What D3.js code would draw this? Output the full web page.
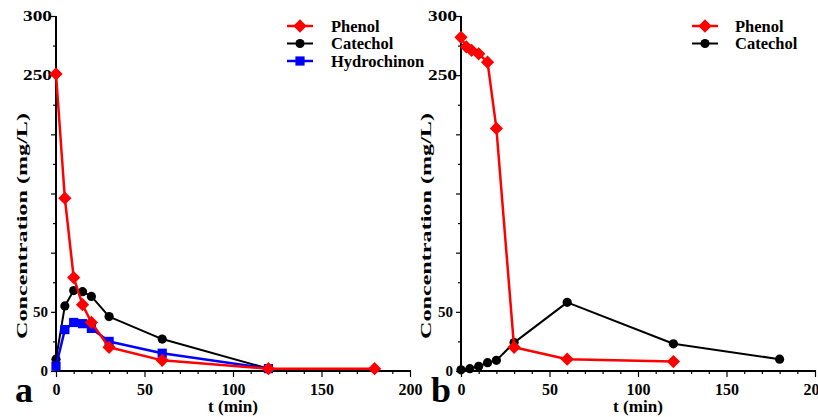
<!DOCTYPE html>
<html><head><meta charset="utf-8">
<script src="https://cdn.jsdelivr.net/npm/d3@7"></script>
<style>
html,body{margin:0;padding:0;background:#fff;}
svg text{font-family:"Liberation Serif","Times New Roman",serif;font-weight:bold;fill:#000;}
</style></head>
<body><svg id="c" width="818" height="417"></svg>
<script>
// ---- data ----
const timeA = [0, 5, 10, 15, 20, 30, 60, 120];
const phenolATimes = [0, 5, 10, 15, 20, 30, 60, 120, 180];
const phenolA = [251, 146, 79, 56, 41, 20, 9, 2, 2];
const catecholA = [10, 55, 68, 67, 63, 46, 27, 2];
const hydrochinonA = [4, 35, 41, 40, 36, 25, 15, 2];

const phenolBTimes = [0, 3, 6, 10, 15, 20, 30, 60, 120];
const phenolB = [282, 274, 271, 268, 261, 205, 20, 10, 8];
const catecholBTimes = [0, 5, 10, 15, 20, 30, 60, 120, 180];
const catecholB = [1, 2, 4, 7, 9, 24, 58, 23, 10];

const yTickLabels = [0, 50, 250, 300];
const xTickLabels = [0, 50, 100, 150, 200];
const panelLetters = ["a", "b"];

// ---- drawing ----
const svg = d3.select("#c");
const Y0 = 371, Y1 = 16;

function zip(ts, vs){ return ts.map((t,i)=>({t:t, v:vs[i]})); }

const panels = [
  {x0:56, x1:410, letter:panelLetters[0], letterX:15, titleX:22,
   series:[
     {name:"Catechol", color:"#000", shape:"circle", width:2, data:zip(timeA, catecholA)},
     {name:"Hydrochinon", color:"#0000ff", shape:"square", width:2.5, data:zip(timeA, hydrochinonA)},
     {name:"Phenol", color:"#ff0000", shape:"diamond", width:2.5, data:zip(phenolATimes, phenolA)}
   ],
   legendOrder:["Phenol","Catechol","Hydrochinon"], legX:287, legTextX:331},
  {x0:461, x1:815, letter:panelLetters[1], letterX:431, titleX:426,
   series:[
     {name:"Catechol", color:"#000", shape:"circle", width:2, data:zip(catecholBTimes, catecholB)},
     {name:"Phenol", color:"#ff0000", shape:"diamond", width:2.5, data:zip(phenolBTimes, phenolB)}
   ],
   legendOrder:["Phenol","Catechol"], legX:692, legTextX:735}
];

function marker(g, shape, color, x, y){
  if(shape==="circle"){
    g.append("circle").attr("cx",x).attr("cy",y).attr("r",4.6).attr("fill",color);
  } else if(shape==="square"){
    g.append("path").attr("d", d3.symbol(d3.symbolSquare, 85)()).attr("transform",`translate(${x},${y})`).attr("fill",color);
  } else {
    g.append("path").attr("d", d3.symbol(d3.symbolSquare, 88)()).attr("transform",`translate(${x},${y}) rotate(45)`).attr("fill",color);
  }
}

panels.forEach(p=>{
  const x = d3.scaleLinear().domain([0,200]).range([p.x0,p.x1]);
  const y = d3.scaleLinear().domain([0,300]).range([Y0,Y1]);

  // x axis
  const xa = svg.append("g").attr("transform",`translate(0,${Y0})`)
    .call(d3.axisBottom(x).tickValues(d3.range(0,201,10))
      .tickFormat(d=> xTickLabels.includes(d) ? d : "").tickSizeOuter(0));
  xa.select(".domain").attr("stroke","#000").attr("stroke-width",2).attr("d",`M${p.x0-1},0H${p.x1+1}`);
  xa.selectAll(".tick line").attr("stroke-width",1.2).attr("y2", d=> d%50===0 ? 6 : 3);
  xa.selectAll(".tick text").attr("y",13).attr("font-size",16).attr("fill","#000");

  // y axis
  const ya = svg.append("g").attr("transform",`translate(${p.x0},0)`)
    .call(d3.axisLeft(y).tickValues(d3.range(0,301,25))
      .tickFormat(d=> yTickLabels.includes(d) ? d : "").tickSizeOuter(0));
  ya.select(".domain").attr("stroke","#000").attr("stroke-width",2).attr("d",`M0,${Y0+1}V${Y1}`);
  ya.selectAll(".tick line").attr("stroke-width",1.2).attr("x2", d=> d%50===0 ? -5 : -3);
  ya.selectAll(".tick text").attr("x", d=> d>=250 ? -4 : -8).attr("font-size",15).attr("fill","#000")
    .each(function(d){ if(d>=250){ d3.select(this).attr("textLength",29).attr("lengthAdjust","spacingAndGlyphs"); } });

  // axis titles
  svg.append("text").attr("transform",`translate(${p.titleX},${226}) rotate(-90)`)
    .attr("text-anchor","middle").attr("dy","0.35em").attr("font-size",15)
    .attr("textLength",226).attr("lengthAdjust","spacingAndGlyphs")
    .text("Concentration (mg/L)");
  svg.append("text").attr("x",(p.x0+p.x1)/2).attr("y",412)
    .attr("text-anchor","middle").attr("font-size",16)
    .attr("textLength",50).attr("lengthAdjust","spacingAndGlyphs").text("t (min)");

  // panel letter
  svg.append("text").attr("x",p.letterX).attr("y",402).attr("font-size",36).text(p.letter);

  // series
  const line = d3.line().x(d=>x(d.t)).y(d=>y(d.v));
  p.series.forEach(s=>{
    const g = svg.append("g");
    g.append("path").datum(s.data).attr("d",line).attr("fill","none")
      .attr("stroke",s.color).attr("stroke-width",s.width).attr("stroke-linejoin","round");
    s.data.forEach(d=> marker(g, s.shape, s.color, x(d.t), y(d.v)));
  });

  // legend
  p.legendOrder.forEach((name,i)=>{
    const s = p.series.find(q=>q.name===name);
    const ly = 26 + i*17.5;
    const g = svg.append("g");
    g.append("line").attr("x1",p.legX).attr("x2",p.legX+26).attr("y1",ly).attr("y2",ly)
      .attr("stroke",s.color).attr("stroke-width",s.width);
    marker(g, s.shape, s.color, p.legX+13, ly);
    g.append("text").attr("x",p.legTextX).attr("y",ly).attr("dy","0.35em").attr("font-size",16.5).text(name);
  });
});
</script>
</body></html>
